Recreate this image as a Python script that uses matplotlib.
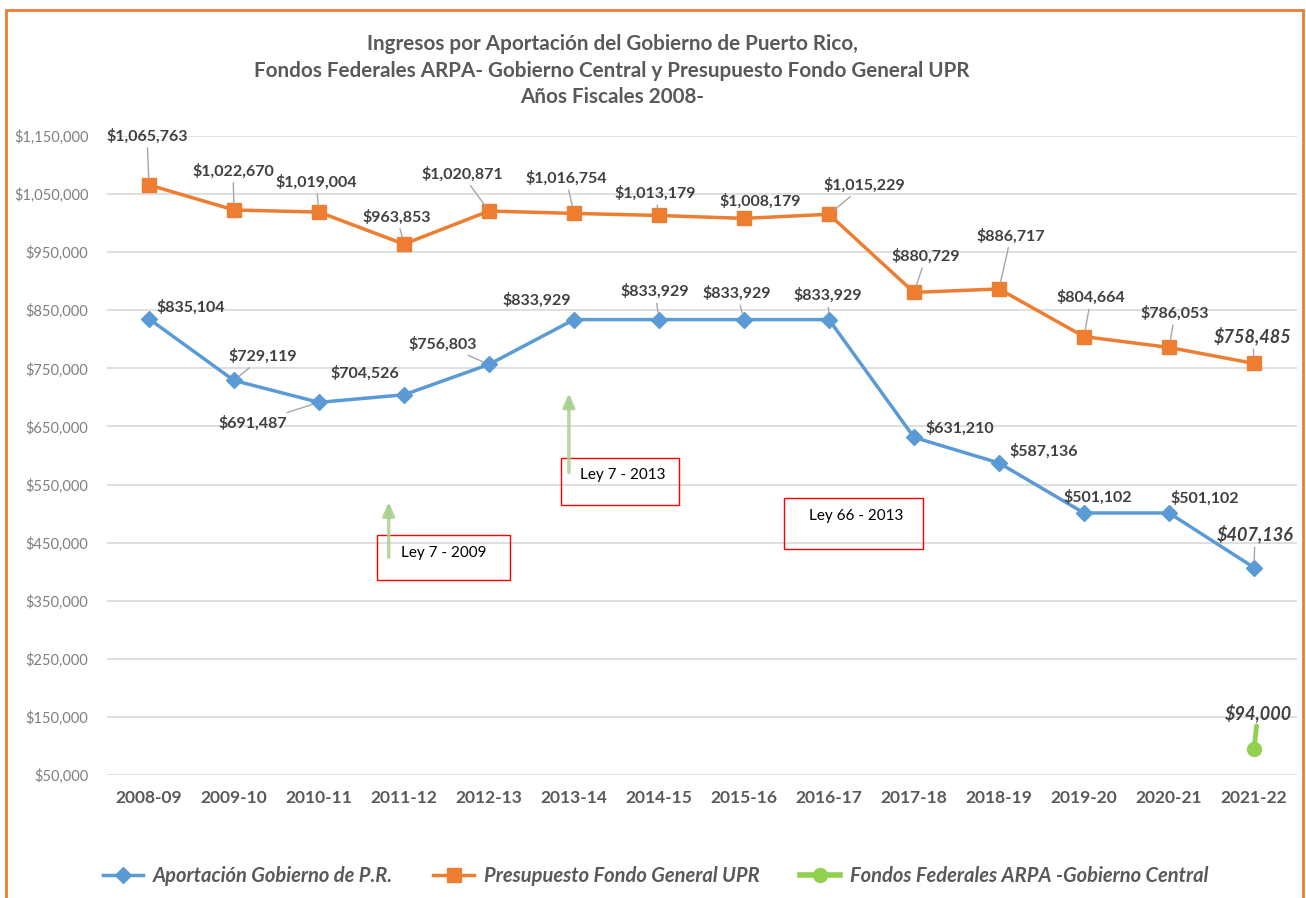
import matplotlib
matplotlib.use("Agg")
import matplotlib.pyplot as plt
import matplotlib.patches as mpatches
from matplotlib.lines import Line2D

plt.rcParams['font.family'] = ['Lato', 'DejaVu Sans']

# Data
years = ['2008-09', '2009-10', '2010-11', '2011-12', '2012-13', '2013-14', '2014-15',
         '2015-16', '2016-17', '2017-18', '2018-19', '2019-20', '2020-21', '2021-22']
aportacion = [835104, 729119, 691487, 704526, 756803, 833929, 833929,
              833929, 833929, 631210, 587136, 501102, 501102, 407136]
presupuesto = [1065763, 1022670, 1019004, 963853, 1020871, 1016754, 1013179,
               1008179, 1015229, 880729, 886717, 804664, 786053, 758485]
arpa_year = ['2021-22']
arpa = [94000]

# label offsets in pixels (dx, dy), and whether a leader line is drawn
pres_off = [(-2, 49), (-1, 39), (-3, 30), (-7, 27), (-27, 37), (-8, 35), (-4, 22),
            (16, 17), (35, 29), (12, 36), (12, 53), (7, 39), (6, 34), (-1, 28)]
pres_lead = [1, 1, 1, 1, 1, 1, 1, 0, 1, 1, 1, 1, 1, 1]
apor_off = [(42, 12), (29, 24), (-66, -21), (-39, 22), (-46, 20), (-37, 19), (-4, 28),
            (-7, 26), (-1, 24), (46, 9), (45, 12), (14, 16), (36, 15), (1, 34)]
apor_lead = [0, 1, 1, 0, 1, 0, 1, 1, 1, 0, 0, 0, 0, 1]

BLUE = '#5B9BD5'
ORANGE = '#ED7D31'
GREEN = '#92D050'
GRAY = '#595959'
LABEL = '#404040'

fig = plt.figure(figsize=(13.06, 8.98), dpi=100)
ax = fig.add_axes([106.5 / 1306, 1 - 775 / 898, 1190 / 1306, 639 / 898])

x = list(range(len(years)))
ax.plot(x, aportacion, color=BLUE, lw=2.5, marker='D', ms=8, mfc=BLUE, mec=BLUE, zorder=3)
ax.plot(x, presupuesto, color=ORANGE, lw=2.5, marker='s', ms=10, mfc=ORANGE, mec=ORANGE, zorder=3)
xa = [years.index(y) for y in arpa_year]
ax.plot(xa, arpa, color=GREEN, lw=3, marker='o', ms=10, mfc=GREEN, mec=GREEN, zorder=3)

ax.set_xlim(-0.5, len(years) - 0.5)
ax.set_ylim(50000, 1150000)
ax.set_yticks(range(50000, 1150001, 100000))
ax.set_yticklabels([f'${v:,.0f}' for v in range(50000, 1150001, 100000)],
                   color='#7f7f7f', fontsize=10.5)
ax.set_xticks(x)
ax.set_xticklabels(years, fontsize=12.5, fontweight='bold', color=GRAY)
ax.tick_params(length=0)
ax.tick_params(axis='x', pad=11)
ax.tick_params(axis='y', pad=13)
ax.grid(axis='y', color='#D9D9D9', lw=1.2)
ax.set_axisbelow(True)
for s in ax.spines.values():
    s.set_visible(False)


def label(xi, v, off, lead, last, color='#a6a6a6', lw=1):
    props = None
    if lead:
        props = dict(arrowstyle='-', color=color, lw=lw, shrinkA=1, shrinkB=5)
    ax.annotate(f'${v:,.0f}', (xi, v), xytext=off, textcoords='offset pixels',
                ha='center', va='center', fontsize=13 if last else 11.5,
                fontweight='bold', fontstyle='italic' if last else 'normal',
                color=LABEL, arrowprops=props, zorder=4)


n = len(years)
for i in range(n):
    label(i, presupuesto[i], pres_off[i], pres_lead[i], i == n - 1)
    label(i, aportacion[i], apor_off[i], apor_lead[i], i == n - 1)
for xi, v in zip(xa, arpa):
    label(xi, v, (4, 37), 1, True, color=GREEN, lw=3.5)

# Annotations: laws
boxes = [((2.68, 385700), 1.57, 77300, 'Ley 7 - 2009', (2.97, 432000)),
         ((4.85, 514800), 1.39, 80900, 'Ley 7 - 2013', (5.07, 566000)),
         ((7.47, 439000), 1.64, 87800, 'Ley 66 - 2013', (7.76, 496000))]
for (bx, by), bw, bh, txt, (tx, ty) in boxes:
    ax.add_patch(mpatches.Rectangle((bx, by), bw, bh, fill=False, ec='#FF0000', lw=1, zorder=2))
    ax.text(tx, ty, txt, fontsize=11, color='black', ha='left', va='center', zorder=2)

for ax_x, y0, y1 in [(2.82, 420000, 525000), (4.94, 566000, 712000)]:
    ax.annotate('', xy=(ax_x, y1), xytext=(ax_x, y0),
                arrowprops=dict(arrowstyle='-|>,head_width=0.35,head_length=0.8',
                                color='#A9D18E', lw=2.5, alpha=0.85), zorder=2)

fig.text(0.4686, 1 - 34 / 898, 'Ingresos por Aportación del Gobierno de Puerto Rico,\n'
         'Fondos Federales ARPA- Gobierno Central y Presupuesto Fondo General UPR\n'
         'Años Fiscales 2008-', ha='center', va='top', fontsize=14.9, fontweight='bold',
         color=GRAY, linespacing=1.42)

handles = [Line2D([], [], color=BLUE, lw=2.5, marker='D', ms=8),
           Line2D([], [], color=ORANGE, lw=2.5, marker='s', ms=10),
           Line2D([], [], color=GREEN, lw=4, marker='o', ms=10)]
names = ['Aportación Gobierno de P.R.', 'Presupuesto Fondo General UPR',
         'Fondos Federales ARPA -Gobierno Central']
fig.legend(handles, names, loc='center', bbox_to_anchor=(0.502, 1 - 876 / 898), ncol=3,
           frameon=False, prop=dict(size=14.5, style='italic', weight='bold'),
           labelcolor=GRAY, handlelength=2.0, columnspacing=2.0, handletextpad=0.5)

fig.add_artist(mpatches.Rectangle((6 / 1306, -0.05), 1297 / 1306, 1.05 - 10 / 898,
                                  transform=fig.transFigure, fill=False, ec=ORANGE, lw=2))

fig.savefig('out.png', dpi=100)
